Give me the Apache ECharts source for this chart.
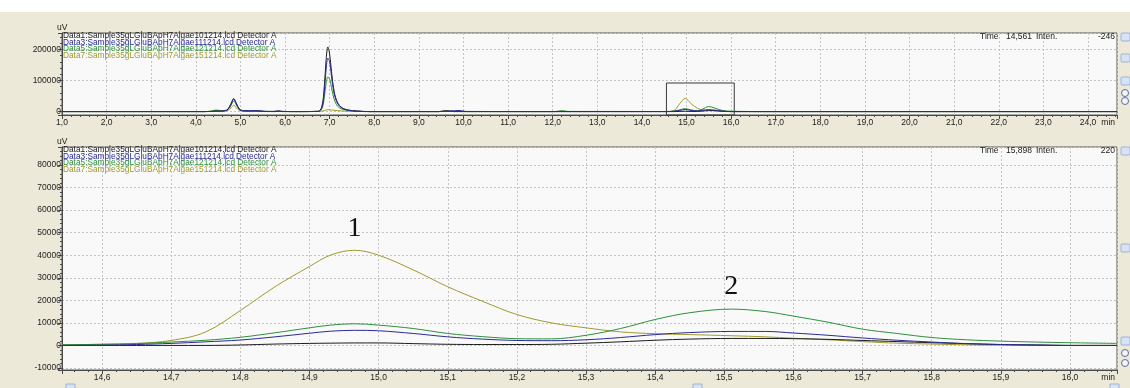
<!DOCTYPE html>
<html>
<head>
<meta charset="utf-8">
<script src="https://cdn.jsdelivr.net/npm/echarts@6/dist/echarts.min.js"></script>
<style>
html,body{margin:0;padding:0;background:#fff}
#c{width:1130px;height:388px}
</style>
</head>
<body>
<div id="c"></div>
<script>
// ---- overview run (minutes) ----
const overviewTime = [1.0, 4.2, 4.35, 4.45, 4.55, 4.65, 4.72, 4.79, 4.85, 4.91, 4.98, 5.08, 5.2, 5.3, 5.42, 5.55, 5.75, 5.85, 5.95, 6.3,
  6.75, 6.83, 6.88, 6.92, 6.96, 7.0, 7.04, 7.1, 7.18, 7.28, 7.42, 7.6, 7.9, 9.45, 9.6, 9.7, 9.8, 9.9, 10.05, 12.05,
  12.2, 12.35, 14.55, 14.72, 14.85, 14.97, 15.1, 15.25, 15.35, 15.5, 15.62, 15.8, 16.0, 16.3, 16.6, 24.65];
const overviewData1 = [0, 0, 500, 1500, 1500, 3000, 8000, 26000, 42000, 25000, 7000, 2500, 2000, 2500, 2000, 500, 500, 2000, 500, 0,
  1000, 20000, 80000, 165000, 208000, 185000, 130000, 65000, 28000, 12000, 5000, 2000, 0, 0, 3000, 2000, 1000, 1500, 0, 0,
  0, 0, 0, 0, 600, 1100, 500, 500, 1500, 3100, 3000, 1200, 0, 0, 0, 0];
const overviewData3 = [0, 0, 300, 1000, 1200, 2500, 7000, 24000, 40000, 26000, 8000, 3000, 2500, 3000, 2500, 800, 500, 1500, 500, 0,
  800, 15000, 65000, 135000, 172000, 160000, 115000, 58000, 25000, 11000, 4500, 1500, 0, 0, 1000, 1500, 2500, 3500, 500, 0,
  0, 0, 0, 1000, 3800, 6700, 3800, 2100, 3500, 6200, 5000, 1500, 0, 0, 0, 0];
const overviewData5 = [0, 0, 1500, 4000, 2500, 2500, 6000, 20000, 34000, 21000, 6000, 2000, 1500, 1500, 1000, 500, 0, 1000, 0, 0,
  500, 10000, 45000, 90000, 112000, 104000, 78000, 40000, 17000, 8000, 3500, 1000, 0, 0, 500, 500, 0, 0, 0, 0,
  3000, 500, 300, 1800, 5600, 9600, 5300, 2900, 7500, 16100, 12000, 3500, 1200, 500, 0, 0];
const overviewData7 = [0, 0, 2000, 5000, 3500, 2000, 4000, 12000, 20000, 12000, 3000, 1000, 500, 500, 500, 0, 0, 500, 0, 0,
  500, 1500, 3000, 5000, 6000, 6000, 5000, 4000, 3000, 2000, 1000, 500, 0, 0, 1500, 500, 0, 0, 0, 0,
  1000, 0, 200, 3500, 26000, 42200, 26000, 10000, 6000, 4300, 2800, 600, 0, 0, 0, 0];

// ---- expanded window 14,54 - 16,07 min ----
const zoomTime = [14.542, 14.6, 14.65, 14.7, 14.75, 14.8, 14.85, 14.9, 14.93, 14.965, 15.0, 15.05, 15.1, 15.15, 15.2, 15.25,
  15.3, 15.35, 15.4, 15.45, 15.51, 15.56, 15.6, 15.65, 15.7, 15.75, 15.8, 15.85, 15.9, 15.95, 16.0, 16.068];
const zoomData1 = [0, 0, 0, 0, 0, 200, 600, 900, 1000, 1100, 1100, 800, 500, 400, 400, 500,
  1000, 1600, 2300, 2800, 3100, 3100, 3000, 2700, 2200, 1700, 1200, 800, 400, 200, 0, 0];
const zoomData3 = [0, 100, 400, 900, 1600, 2400, 3800, 5400, 6300, 6700, 6500, 5300, 3800, 2800, 2200, 2100,
  2500, 3500, 4800, 5700, 6200, 6200, 5500, 4500, 3300, 2300, 1500, 800, 400, 200, 0, 0];
const zoomData5 = [300, 500, 800, 1500, 2300, 3600, 5600, 7800, 9000, 9600, 9000, 7500, 5300, 3900, 3000, 2900,
  4500, 7500, 11500, 14500, 16100, 15000, 13000, 10300, 7200, 5300, 3500, 2500, 1900, 1500, 1200, 900];
const zoomData7 = [200, 500, 900, 2200, 6000, 15500, 26000, 35000, 40000, 42200, 40000, 33500, 26000, 19600, 13700, 10000,
  7800, 6000, 5200, 4800, 4300, 3800, 3200, 2500, 1700, 1000, 600, 300, 100, 0, 0, 0];

// trace names and colours
const traceNames = [
  'Data1:Sample35gLGluBApH7Algae101214.lcd Detector A',
  'Data3:Sample35gLGluBApH7Algae111214.lcd Detector A',
  'Data5:Sample35gLGluBApH7Algae121214.lcd Detector A',
  'Data7:Sample35gLGluBApH7Algae151214.lcd Detector A'
];
const traceColors = ['#1c1c1c', '#2a2a96', '#2e8f3c', '#a09a2c'];

// zoom window box and peak markers
const zoomBox = { from: 14.55, to: 16.07, top: 92000 };
const peaks = [{ name: '1', time: 14.965, value: 42200 }, { name: '2', time: 15.51, value: 16100 }];

// cursor readouts
const overviewReadout = { time: '14,561', inten: '-246' };
const zoomReadout = { time: '15,898', inten: '220' };

const FONT = '"Liberation Sans", Arial, sans-serif';
const comma = v => v.toFixed(1).replace('.', ',');
const pair = (t, v) => t.map((x, i) => [x, v[i]]);

const chart = echarts.init(document.getElementById('c'), null, { renderer: 'canvas' });

function xAxisCfg(gi, min, max, step, extra) {
  return Object.assign({
    type: 'value', gridIndex: gi, min: min, max: max,
    axisLine: { show: true, onZero: false, lineStyle: { color: '#4a4a4a', width: 1 } },
    axisTick: { show: true, length: 4, lineStyle: { color: '#4a4a4a' } },
    minorTick: { show: true, splitNumber: 5, length: 2, lineStyle: { color: '#4a4a4a' } },
    axisLabel: {
      fontFamily: FONT, fontSize: 8.5, color: '#222', margin: 3,
      formatter: v => (Math.abs(v / step - Math.round(v / step)) < 1e-6 ? comma(v) : '')
    },
    splitLine: { show: true, lineStyle: { color: '#c4c4c4', type: [2, 2] } }
  }, extra || {});
}
function yAxisCfg(gi, min, max, split, step) {
  return {
    type: 'value', gridIndex: gi, min: min, max: max, splitNumber: split,
    axisLine: { show: true, lineStyle: { color: '#4a4a4a', width: 1 } },
    axisTick: { show: true, length: 4, lineStyle: { color: '#4a4a4a' } },
    minorTick: { show: true, splitNumber: 5, length: 2, lineStyle: { color: '#4a4a4a' } },
    axisLabel: {
      fontFamily: FONT, fontSize: 8.5, color: '#222', margin: 1,
      formatter: v => (Math.abs(v % step) < 1e-6 ? String(v) : '')
    },
    splitLine: { show: true, lineStyle: { color: '#c4c4c4', type: [2, 2] } }
  };
}

function lineSeries(name, color, xi, data, extra) {
  return Object.assign({
    type: 'line', name: name, xAxisIndex: xi, yAxisIndex: xi, data: data,
    showSymbol: false, smooth: 0.35, silent: true,
    lineStyle: { color: color, width: 1 }, itemStyle: { color: color }
  }, extra || {});
}

const overviewSets = [overviewData1, overviewData3, overviewData5, overviewData7];
const zoomSets = [zoomData1, zoomData3, zoomData5, zoomData7];
const drawOrder = [3, 2, 0, 1];

const series = [];
drawOrder.forEach(k => {
  const extra = {};
  if (k === 0) {
    extra.markArea = {
      silent: true,
      itemStyle: { color: 'rgba(0,0,0,0)', borderColor: '#3a3a3a', borderWidth: 1 },
      data: [[{ xAxis: zoomBox.from, yAxis: zoomBox.top }, { xAxis: zoomBox.to, yAxis: -11000 }]]
    };
  }
  series.push(lineSeries(traceNames[k], traceColors[k], 0, pair(overviewTime, overviewSets[k]), extra));
});
drawOrder.forEach(k => {
  const extra = {};
  const pk = k === 3 ? peaks[0] : (k === 2 ? peaks[1] : null);
  if (pk) {
    extra.markPoint = {
      silent: true, symbol: 'circle', symbolSize: 0,
      data: [{ coord: [pk.time, pk.value], value: pk.name }],
      label: { show: true, formatter: pk.name, offset: [0, -22], color: '#111',
        fontFamily: '"Liberation Serif", "Times New Roman", serif', fontSize: 28 }
    };
  }
  series.push(lineSeries(traceNames[k], traceColors[k], 1, pair(zoomTime, zoomSets[k]), extra));
});

// text and decoration drawn around the two plots
const g = [];
g.push({ type: 'rect', shape: { x: 0, y: 0, width: 1130, height: 12 }, style: { fill: '#ffffff' }, silent: true });
function txt(x, y, s, fill, size, align) {
  g.push({ type: 'text', x: x, y: y, silent: true, z: 50,
    style: { text: s, fill: fill, font: size + 'px ' + FONT, align: align || 'left', verticalAlign: 'middle' } });
}
function panelText(top, readout, minY) {
  txt(57, top - 5, 'uV', '#222', 8.5);
  traceNames.forEach((n, i) => txt(63, top + 3 + i * 6.5, n, traceColors[i], 8.3));
  txt(980, top + 4, 'Time', '#222', 8.5);
  txt(1006, top + 4, readout.time, '#222', 8.5);
  txt(1036, top + 4, 'Inten.', '#222', 8.5);
  txt(1115, top + 4, readout.inten, '#222', 8.5, 'right');
  txt(1115, minY, 'min', '#222', 8.5, 'right');
}
panelText(33, overviewReadout, 123);
panelText(147, zoomReadout, 378);

// side toolbar buttons
function btn(y, round) {
  if (round) {
    g.push({ type: 'circle', shape: { cx: 1125, cy: y, r: 3.5 }, silent: true,
      style: { fill: '#f4f4f4', stroke: '#5a6ea8', lineWidth: 1 } });
  } else {
    g.push({ type: 'rect', shape: { x: 1121, y: y - 4, width: 9, height: 8, r: 1 }, silent: true,
      style: { fill: '#d7e2f4', stroke: '#9fb3d8', lineWidth: 1 } });
  }
}
[37, 58, 81].forEach(y => btn(y));
[93, 101].forEach(y => btn(y, true));
[151, 248, 341].forEach(y => btn(y));
[353, 363].forEach(y => btn(y, true));
[66, 693, 1110].forEach(x => g.push({ type: 'rect', shape: { x: x, y: 384, width: 9, height: 6 }, silent: true,
  style: { fill: '#d7e2f4', stroke: '#9fb3d8', lineWidth: 1 } }));

chart.setOption({
  animation: false,
  backgroundColor: '#ece9d9',
  grid: [
    { left: 62, right: 13, top: 33, height: 82, show: true, backgroundColor: '#f9f9f9', borderColor: '#555', borderWidth: 1 },
    { left: 62, right: 13, top: 147, height: 223, show: true, backgroundColor: '#f9f9f9', borderColor: '#555', borderWidth: 1 }
  ],
  xAxis: [
    xAxisCfg(0, 1.0, 24.65, 1, { interval: 1 }),
    xAxisCfg(1, 14.542, 16.068, 0.1, { splitNumber: 15 })
  ],
  yAxis: [
    yAxisCfg(0, -11000, 253000, 3, 100000),
    yAxisCfg(1, -10900, 88000, 10, 10000)
  ],
  series: series,
  graphic: g
});
</script>
</body>
</html>
